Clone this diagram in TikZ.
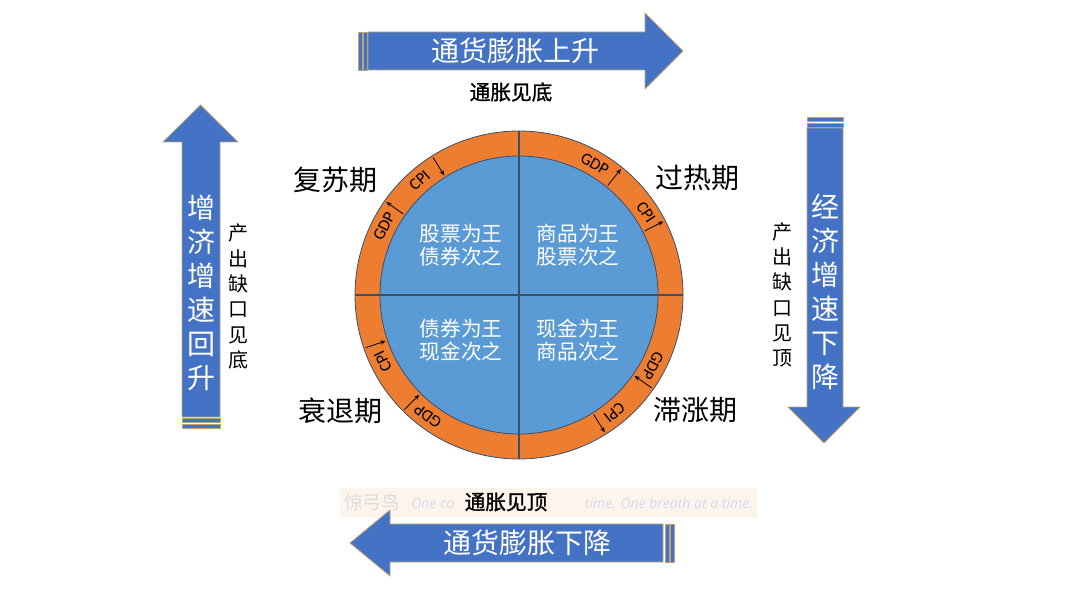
\documentclass[tikz,border=0pt]{standalone}
\usepackage{fontspec}
\usetikzlibrary{arrows.meta,calc}
\newfontfamily\cjk{Noto Sans CJK SC}
\newfontfamily\cjkb[FakeBold=1.2]{Noto Sans CJK SC}
\newfontfamily\lat{Carlito}
\newfontfamily\wmf{Open Sans}
\definecolor{arrowblue}{HTML}{4472C4}
\definecolor{arrowedge}{HTML}{BFA46F}
\definecolor{ringorange}{HTML}{ED7D31}
\definecolor{innerblue}{HTML}{5B9BD5}
\definecolor{edgedark}{HTML}{3B4F6B}
\definecolor{wmbg}{HTML}{FDF4EC}
\definecolor{wmtext}{HTML}{D3DBEC}
\definecolor{wmcjk}{HTML}{DCDCDC}
\begin{document}
\begin{tikzpicture}[x=0.75pt,y=0.75pt,
  bigarrow/.style={fill=arrowblue,draw=arrowedge,line width=0.6pt},
  stripe/.style={fill=arrowblue,draw=arrowedge,line width=0.5pt},
  arrowtext/.style={text=white,font=\cjk\fontsize{21}{25.5}\selectfont,inner sep=0pt,align=center},
  sidetext/.style={text=black,font=\cjk\fontsize{15}{19}\selectfont,inner sep=0pt,align=center},
  phase/.style={text=black,font=\cjk\fontsize{21}{25}\selectfont,inner sep=0pt},
  turn/.style={text=black,font=\cjkb\fontsize{15.5}{18}\selectfont,inner sep=0pt},
  quad/.style={text=white,font=\cjk\fontsize{15.5}{17.5}\selectfont,inner sep=0pt,align=center},
  ringlabel/.style={text=black,font=\lat\fontsize{12.5}{14}\selectfont,inner sep=0pt},
  tick/.style={-{Stealth[length=4pt,width=3.2pt]},line width=0.6pt,black},
  divider/.style={draw=edgedark,line width=0.8pt},
  wmlatin/.style={inner sep=0pt,text=wmtext,font=\wmf\itshape\fontsize{10.5}{12}\selectfont}
]
\useasboundingbox[fill=white] (0,0) rectangle (1080,611);

% watermark
\fill[wmbg] (340,93) rectangle (757,123);
\node[anchor=base west,inner sep=0pt,text=wmcjk,font=\cjk\fontsize{14}{16}\selectfont] (wm1) at (344,102) {惊弓鸟};
\node[wmlatin,anchor=base west] (wm2) at (411,103) {One co};
\node[wmlatin,anchor=base east] (wm3) at (753,103) {time. One breath at a time.};

% top arrow
\draw[stripe] (358,541) rectangle (362,579);
\draw[stripe] (363,541) rectangle (367,579);
\draw[bigarrow] (368,541) -- (368,579) -- (645,579) -- (645,598) -- (683,560) -- (645,522) -- (645,541) -- cycle;
\node[arrowtext] (up) at (515,560) {通货膨胀上升};
\node[turn] (bottomturn) at (511,519) {通胀见底};

% bottom arrow
\draw[stripe] (665,49) rectangle (669,87);
\draw[stripe] (670,49) rectangle (674,87);
\draw[bigarrow] (663,87) -- (390,87) -- (390,101) -- (350,68) -- (390,35) -- (390,49) -- (663,49) -- cycle;
\node[arrowtext] (down) at (527,68) {通货膨胀下降};
\node[turn] (topturn) at (506,109) {通胀见顶};

% left arrow
\draw[stripe] (182,189) rectangle (220,193);
\draw[stripe] (182,183) rectangle (220,187);
\draw[bigarrow] (182,194) -- (182,469) -- (163,469) -- (200.5,506) -- (238,469) -- (220,469) -- (220,194) -- cycle;
\node[arrowtext] (growthup) at (201,318.5) {增\\济\\增\\速\\回\\升};
\node[sidetext] (gaplow) at (238,314.5) {产\\出\\缺\\口\\见\\底};

% right arrow
\draw[stripe] (807,490) rectangle (843,494);
\draw[stripe] (807,484) rectangle (843,488);
\draw[bigarrow] (807,483) -- (807,204) -- (788,204) -- (824,168) -- (860,204) -- (843,204) -- (843,483) -- cycle;
\node[arrowtext] (growthdown) at (825,319) {经\\济\\增\\速\\下\\降};
\node[sidetext] (gaphigh) at (782,316) {产\\出\\缺\\口\\见\\顶};

% clock
\coordinate (C) at (519,316);
\filldraw[fill=ringorange,draw=edgedark,line width=0.6pt] (C) circle (123pt);
\filldraw[fill=innerblue,draw=edgedark,line width=0.6pt] (C) circle (104.25pt);
\coordinate (vt) at (519,480);
\coordinate (vb) at (519,152);
\coordinate (hl) at (355,316);
\coordinate (hr) at (683,316);
\draw[divider] (vt) -- (vb);
\draw[divider] (hl) -- (hr);

\node[quad] (q1) at (461,366) {股票为王\\债券次之};
\node[quad] (q2) at (578,366) {商品为王\\股票次之};
\node[quad] (q3) at (461,271) {债券为王\\现金次之};
\node[quad] (q4) at (578,271) {现金为王\\商品次之};

\node[phase] (p1) at (335,431) {复苏期};
\node[phase] (p2) at (697,433) {过热期};
\node[phase] (p3) at (340,200) {衰退期};
\node[phase] (p4) at (695,201) {滞涨期};

\foreach \ang/\txt/\nm [evaluate=\ang as \rot using \ang-90] in
  {153/GDP/tlg,131/CPI/tlc,60/GDP/trg,33/CPI/trc,233/GDP/blg,206/CPI/blc,332/GDP/brg,309/CPI/brc}
  \node[ringlabel,rotate=\rot] (\nm) at ($(C)+(\ang:151.5)$) {\txt};

\foreach \a in {145,51,27,302}
  \draw[tick] ($(C)+(\a:141)$) -- ($(C)+(\a:162)$);
\foreach \a in {122,225,199,325}
  \draw[tick] ($(C)+(\a:162)$) -- ($(C)+(\a:141)$);
\end{tikzpicture}
\end{document}
